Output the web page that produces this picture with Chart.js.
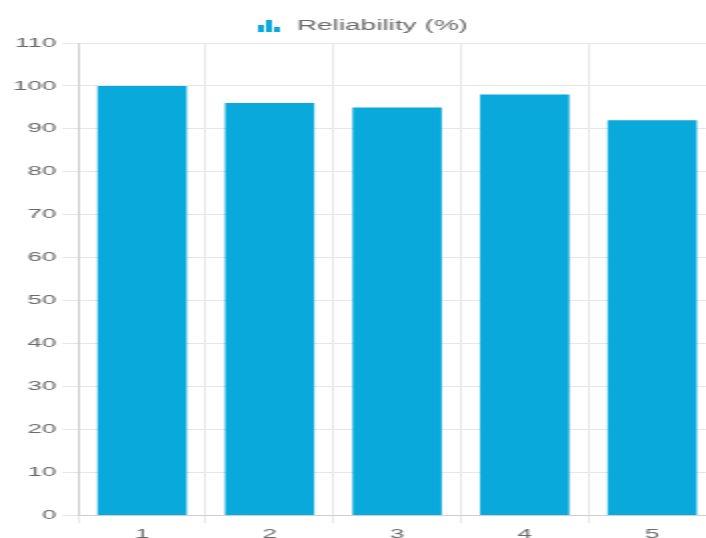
<!DOCTYPE html>
<html>
<head>
<meta charset="utf-8">
<script src="https://cdn.jsdelivr.net/npm/chart.js@4/dist/chart.umd.min.js"></script>
<style>
  html, body { margin: 0; padding: 0; background: #fff; overflow: hidden; }
  /* the chart is drawn at half width and widened 2x horizontally */
  #wrap { position: relative; width: 358px; height: 545px; transform: scaleX(2); transform-origin: 0 0; }
</style>
</head>
<body>
<div id="wrap"><canvas id="c"></canvas></div>
<script>
const categories = ['1', '2', '3', '4', '5'];
const reliability = [100, 96, 95, 98, 92];
const seriesLabel = 'Reliability (%)';
const yTickStep = 10;
const yMax = 110;
const barColor = '#0aa9dc';

// small bar-chart glyph used as the legend marker
function barIcon() {
  const cv = document.createElement('canvas');
  cv.width = 11; cv.height = 12;
  const g = cv.getContext('2d');
  g.fillStyle = barColor;
  g.fillRect(0, 5, 3, 7);
  g.fillRect(4, 0, 3, 12);
  g.fillRect(8, 7, 3, 5);
  return cv;
}

new Chart(document.getElementById('c'), {
  type: 'bar',
  data: {
    labels: categories,
    datasets: [{
      label: seriesLabel,
      data: reliability,
      backgroundColor: barColor,
      borderWidth: 0,
      barPercentage: 0.875,
      categoryPercentage: 0.8,
      pointStyle: barIcon()
    }]
  },
  options: {
    responsive: true,
    maintainAspectRatio: false,
    animation: false,
    layout: { padding: { left: 3.5, right: 0, top: 9, bottom: 0 } },
    plugins: {
      legend: {
        labels: {
          usePointStyle: true,
          color: '#6a6a6a',
          font: { size: 14 }
        }
      },
      tooltip: { enabled: false }
    },
    scales: {
      x: {
        grid: { color: '#e8e8e8', offset: true },
        border: { color: '#cfcfcf' },
        ticks: { color: '#6a6a6a', font: { size: 13 } }
      },
      y: {
        min: 0, max: yMax,
        grid: { color: '#e6e6e6' },
        border: { color: '#cfcfcf' },
        ticks: { stepSize: yTickStep, color: '#6a6a6a', font: { size: 13 } }
      }
    }
  }
});
</script>
</body>
</html>
